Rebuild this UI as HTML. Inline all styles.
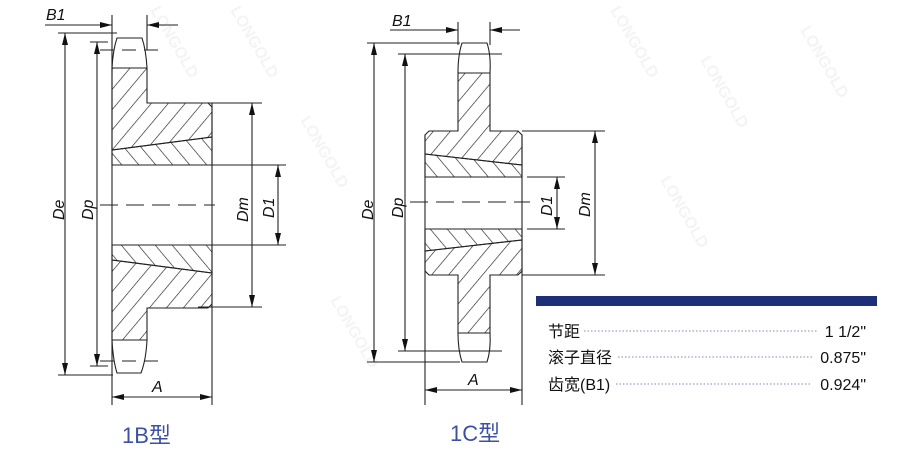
<!DOCTYPE html>
<html><head><meta charset="utf-8"><style>
html,body{margin:0;padding:0;background:#fff;}
svg{display:block}
text{font-family:"Liberation Sans","Noto Sans CJK SC",sans-serif;}
</style></head><body>
<svg width="900" height="450" viewBox="0 0 900 450" xmlns="http://www.w3.org/2000/svg">
<defs>
<pattern id="hA" patternUnits="userSpaceOnUse" width="13" height="13" patternTransform="rotate(40)"><line x1="0" y1="0" x2="0" y2="13" stroke="#222" stroke-width="1.3"/></pattern>
<pattern id="hB" patternUnits="userSpaceOnUse" width="13" height="13" patternTransform="rotate(-40)"><line x1="0" y1="0" x2="0" y2="13" stroke="#222" stroke-width="1.3"/></pattern>
<marker id="ar" viewBox="0 0 12 6" refX="12" refY="3" markerWidth="12" markerHeight="6" markerUnits="userSpaceOnUse" orient="auto"><path d="M0,0 L12,3 L0,6 Z" fill="#111"/></marker>
<marker id="as" viewBox="0 0 12 6" refX="0" refY="3" markerWidth="12" markerHeight="6" markerUnits="userSpaceOnUse" orient="auto"><path d="M12,0 L0,3 L12,6 Z" fill="#111"/></marker>
</defs>
<g fill="#f4f4f4" font-size="16" font-weight="bold">
<text transform="translate(150,10) rotate(60)">LONGOLD</text>
<text transform="translate(230,10) rotate(60)">LONGOLD</text>
<text transform="translate(300,120) rotate(60)">LONGOLD</text>
<text transform="translate(610,10) rotate(60)">LONGOLD</text>
<text transform="translate(700,60) rotate(60)">LONGOLD</text>
<text transform="translate(800,30) rotate(60)">LONGOLD</text>
<text transform="translate(660,180) rotate(60)">LONGOLD</text>
<text transform="translate(330,300) rotate(60)">LONGOLD</text>
</g>
<g stroke="#222" stroke-width="1.1" fill="none">
<!-- 1B -->
<path d="M112,68 L147,68 L147,103 L208,103 L212,107 L212,137 L112,150 Z" fill="url(#hA)"/>
<path d="M112,150 L212,137 L212,165 L112,165 Z" fill="url(#hB)"/>
<path d="M112,245 L212,245 L212,273 L112,260 Z" fill="url(#hB)"/>
<path d="M112,260 L212,273 L212,304 L208,308 L147,308 L147,340 L112,340 Z" fill="url(#hA)"/>
<path d="M112,68 Q113,50 117,38 L142,38 Q146,50 147,68"/>
<path d="M112,340 Q113,360 117,373 L141,373 Q146,360 147,340"/>
<line x1="112" y1="15" x2="112" y2="405"/>
<line x1="212" y1="103" x2="212" y2="405"/>
<line x1="147" y1="15" x2="147" y2="50"/>
<line x1="112" y1="165" x2="286" y2="165"/><line x1="112" y1="245" x2="286" y2="245"/>
<line x1="198" y1="103" x2="262" y2="103"/><line x1="198" y1="307" x2="262" y2="307"/>
<line x1="58" y1="33" x2="117" y2="33"/><line x1="58" y1="375" x2="113" y2="375"/>
<line x1="90" y1="42" x2="108" y2="42"/><line x1="90" y1="366" x2="108" y2="366"/>
<line x1="100" y1="50" x2="158" y2="50" stroke-dasharray="14,8"/>
<line x1="100" y1="361" x2="158" y2="361" stroke-dasharray="14,8"/>
<line x1="100" y1="205" x2="215" y2="205" stroke-dasharray="18,8"/>
<line x1="45" y1="25" x2="112" y2="25" marker-end="url(#ar)"/>
<line x1="178" y1="25" x2="147" y2="25" marker-end="url(#ar)"/>
<line x1="65" y1="33" x2="65" y2="375" marker-start="url(#as)" marker-end="url(#ar)"/>
<line x1="97" y1="42" x2="97" y2="366" marker-start="url(#as)" marker-end="url(#ar)"/>
<line x1="252" y1="103" x2="252" y2="307" marker-start="url(#as)" marker-end="url(#ar)"/>
<line x1="278" y1="165" x2="278" y2="245" marker-start="url(#as)" marker-end="url(#ar)"/>
<line x1="112" y1="397" x2="212" y2="397" marker-start="url(#as)" marker-end="url(#ar)"/>
<!-- 1C -->
<path d="M458,73 L490,73 L490,131 L518,131 L522,135 L522,165 L425,154 L425,135 L429,131 L458,131 Z" fill="url(#hA)"/>
<path d="M425,154 L522,165 L522,177 L425,177 Z" fill="url(#hB)"/>
<path d="M425,229 L522,229 L522,240 L425,251 Z" fill="url(#hB)"/>
<path d="M425,251 L522,240 L522,271 L518,275 L490,275 L490,333 L458,333 L458,275 L429,275 L425,271 Z" fill="url(#hA)"/>
<line x1="425" y1="135" x2="425" y2="271"/>
<line x1="522" y1="135" x2="522" y2="271"/>
<path d="M458,73 Q458,55 462,43 L487,43 Q491,55 490,73"/>
<path d="M458,333 Q458,350 462,362 L487,362 Q491,350 490,333"/>
<line x1="458" y1="22" x2="458" y2="45"/><line x1="490" y1="22" x2="490" y2="45"/>
<line x1="425" y1="271" x2="425" y2="405"/><line x1="522" y1="271" x2="522" y2="405"/>
<line x1="522" y1="131" x2="605" y2="131"/><line x1="522" y1="275" x2="605" y2="275"/>
<line x1="527" y1="177" x2="565" y2="177"/><line x1="527" y1="229" x2="565" y2="229"/>
<line x1="367" y1="43" x2="460" y2="43"/><line x1="367" y1="362" x2="460" y2="362"/>
<line x1="398" y1="54" x2="502" y2="54"/><line x1="398" y1="351" x2="502" y2="351"/>
<line x1="410" y1="202" x2="530" y2="202" stroke-dasharray="18,8"/>
<line x1="390" y1="30" x2="458" y2="30" marker-end="url(#ar)"/>
<line x1="520" y1="30" x2="490" y2="30" marker-end="url(#ar)"/>
<line x1="374" y1="43" x2="374" y2="362" marker-start="url(#as)" marker-end="url(#ar)"/>
<line x1="405" y1="54" x2="405" y2="351" marker-start="url(#as)" marker-end="url(#ar)"/>
<line x1="557" y1="177" x2="557" y2="229" marker-start="url(#as)" marker-end="url(#ar)"/>
<line x1="595" y1="131" x2="595" y2="275" marker-start="url(#as)" marker-end="url(#ar)"/>
<line x1="425" y1="390" x2="522" y2="390" marker-start="url(#as)" marker-end="url(#ar)"/>
</g>
<g fill="#111" font-size="16" font-style="italic">
<text x="46" y="20">B1</text>
<text x="392" y="26">B1</text>
<text x="152" y="392">A</text>
<text x="468" y="385">A</text>
<text transform="translate(64,220) rotate(-90)">De</text>
<text transform="translate(93,220) rotate(-90)">Dp</text>
<text transform="translate(248,222) rotate(-90)">Dm</text>
<text transform="translate(274,218) rotate(-90)">D1</text>
<text transform="translate(373,220) rotate(-90)">De</text>
<text transform="translate(403,218) rotate(-90)">Dp</text>
<text transform="translate(552,216) rotate(-90)">D1</text>
<text transform="translate(590,217) rotate(-90)">Dm</text>
</g>
<g fill="#3d51a3" font-size="22">
<text x="122" y="443">1B型</text>
<text x="450" y="441">1C型</text>
</g>
<rect x="536" y="296" width="341" height="10" fill="#1e2f7a"/>
<g stroke="#7a86c2" stroke-width="1" stroke-dasharray="1.5,2">
<line x1="584" y1="331" x2="818" y2="331"/>
<line x1="618" y1="357" x2="812" y2="357"/>
<line x1="616" y1="384" x2="812" y2="384"/>
</g>
<g fill="#111" font-size="16">
<text x="548" y="337">节距</text>
<text x="548" y="363">滚子直径</text>
<text x="548" y="390">齿宽(B1)</text>
<text x="866" y="337" text-anchor="end">1 1/2"</text>
<text x="866" y="363" text-anchor="end">0.875"</text>
<text x="866" y="390" text-anchor="end">0.924"</text>
</g>
</svg>
</body></html>
